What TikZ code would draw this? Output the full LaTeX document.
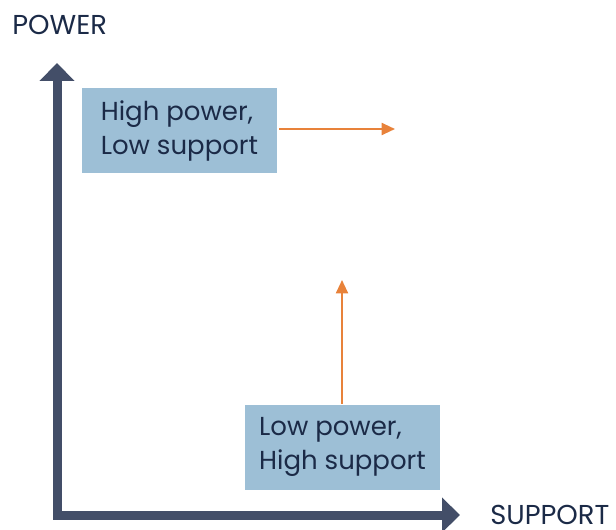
\documentclass[tikz,border=0pt]{standalone}
\usepackage{fontspec}
\setmainfont{Poppins}
\usetikzlibrary{arrows.meta}
\definecolor{axisgray}{HTML}{434E68}
\definecolor{textnavy}{HTML}{1B2A47}
\definecolor{boxblue}{HTML}{9DBFD6}
\definecolor{arroworange}{HTML}{E8823A}
\tikzset{
    quadbox/.style={fill=boxblue, text=textnavy, minimum width=195*0.75pt,
        minimum height=85*0.75pt, align=left, font=\fontsize{19.5}{25.5}\selectfont},
    axislbl/.style={text=textnavy, inner sep=0pt, anchor=base west, font=\fontsize{20.5}{24}\selectfont},
    movearrow/.style={draw=arroworange, line width=1.5pt, -{Triangle[length=10pt, width=9pt]}}
}

\begin{document}
\begin{tikzpicture}[x=0.75pt, y=0.75pt]
    \useasboundingbox (0,0) rectangle (616,529);
    % axes
    \coordinate (origin) at (57,14);
    \coordinate (ytip) at (57,466);
    \coordinate (xtip) at (460,14);
    \draw[axisgray, line width=9*0.75pt, line join=miter,
        {Triangle[length=18*0.75pt, width=34*0.75pt]}-{Triangle[length=18*0.75pt, width=34*0.75pt]}]
        (ytip) -- (origin) -- (xtip);
    \node[axislbl] (powerlbl) at (12,494) {POWER};
    \node[axislbl] (supportlbl) at (490,5) {SUPPORT};
    % boxes
    \node[quadbox] (highpow) at (179.5,398.5) {High power,\\Low support};
    \node[quadbox] (lowpow) at (342.5,82) {Low power,\\High support};
    % moves
    \coordinate (rightend) at (395,400);
    \coordinate (upend) at (342,249);
    \draw[movearrow] ([xshift=1.5pt]highpow.east |- rightend) -- (rightend);
    \draw[movearrow] (lowpow.north -| upend) -- (upend);
\end{tikzpicture}
\end{document}
